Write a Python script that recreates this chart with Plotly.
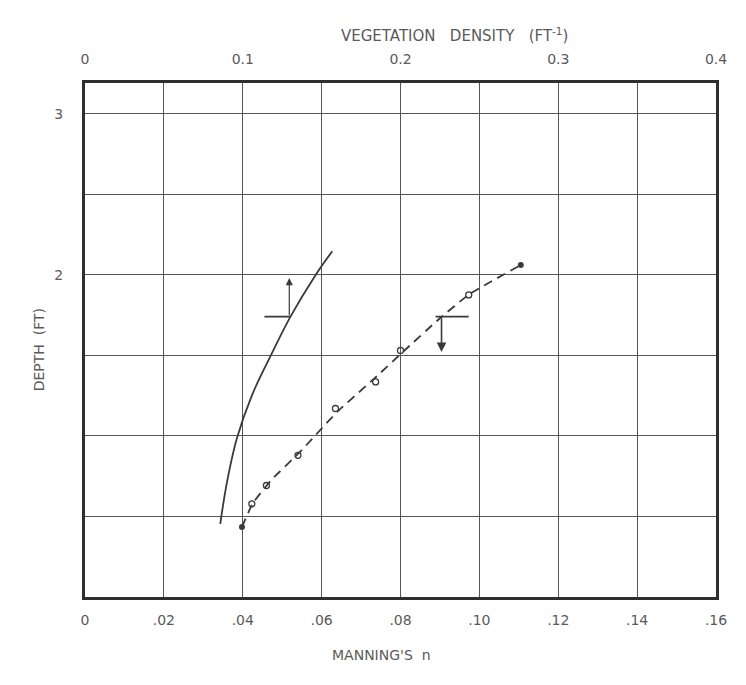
"""Depth vs Manning's n / vegetation density chart."""

import plotly.graph_objects as go

# solid curve: vegetation density relation (plotted on Manning's n scale)
solid_n = [0.0343, 0.0352, 0.0363, 0.0385, 0.0423, 0.0470, 0.0521, 0.0584, 0.0627]
solid_depth = [0.454, 0.60, 0.75, 0.983, 1.25, 1.493, 1.74, 1.996, 2.146]

# dashed curve: Manning's n
dashed_n = [0.0398, 0.0425, 0.0470, 0.0545, 0.0640, 0.0740, 0.0810, 0.0900, 0.0975, 0.1105]
dashed_depth = [0.434, 0.58, 0.72, 0.90, 1.15, 1.37, 1.53, 1.73, 1.88, 2.06]

circle_n = [0.0423, 0.0460, 0.0540, 0.0635, 0.0737, 0.0800, 0.0973]
circle_depth = [0.578, 0.692, 0.879, 1.17, 1.335, 1.53, 1.875]

end_n = [0.0398, 0.1105]
end_depth = [0.434, 2.06]

# limit markers
solid_bar_n = [0.0455, 0.0521]
solid_bar_depth = [1.74, 1.74]
dashed_bar_n = [0.0889, 0.0973]
dashed_bar_depth = [1.74, 1.74]

bottom_ticks = [0, 0.02, 0.04, 0.06, 0.08, 0.10, 0.12, 0.14, 0.16]
bottom_labels = ["0", ".02", ".04", ".06", ".08", ".10", ".12", ".14", ".16"]
top_ticks = [0, 0.1, 0.2, 0.3, 0.4]
top_labels = ["0", "0.1", "0.2", "0.3", "0.4"]
depth_ticks = [2, 3]

INK = "#3a3a3a"
TEXT = "#5a5a5a"
FONT = "DejaVu Sans"

fig = go.Figure()

fig.add_trace(go.Scatter(x=solid_n, y=solid_depth, mode="lines",
                         line=dict(color=INK, width=1.8, shape="spline", smoothing=1.0)))
fig.add_trace(go.Scatter(x=dashed_n, y=dashed_depth, mode="lines",
                         line=dict(color=INK, width=1.8, dash="9px,6px", shape="spline", smoothing=0.4)))
fig.add_trace(go.Scatter(x=circle_n, y=circle_depth, mode="markers",
                         marker=dict(symbol="circle-open", size=6, color=INK, line=dict(width=1.3))))
fig.add_trace(go.Scatter(x=end_n, y=end_depth, mode="markers",
                         marker=dict(symbol="circle", size=6, color=INK)))
fig.add_trace(go.Scatter(x=solid_bar_n, y=solid_bar_depth, mode="lines",
                         line=dict(color=INK, width=1.8)))
fig.add_trace(go.Scatter(x=dashed_bar_n, y=dashed_bar_depth, mode="lines",
                         line=dict(color=INK, width=1.8)))
# invisible trace to anchor the top axis
fig.add_trace(go.Scatter(x=[0, 0.4], y=[0, 0], xaxis="x2", mode="markers",
                         marker=dict(opacity=0), hoverinfo="skip"))

fig.add_annotation(x=0.0518, y=1.98, ax=0.0518, ay=1.74, xref="x", yref="y",
                   axref="x", ayref="y", text="", showarrow=True,
                   arrowhead=2, arrowsize=1.2, arrowwidth=1.2, arrowcolor=INK)
fig.add_annotation(x=0.0904, y=1.52, ax=0.0904, ay=1.74, xref="x", yref="y",
                   axref="x", ayref="y", text="", showarrow=True,
                   arrowhead=2, arrowsize=1.2, arrowwidth=1.6, arrowcolor=INK)

fig.add_annotation(x=0.585, y=1.0, xref="paper", yref="paper", yshift=60,
                   text="VEGETATION\u00a0\u00a0\u00a0DENSITY\u00a0\u00a0\u00a0(FT<sup>-1</sup>)",
                   showarrow=False, font=dict(family=FONT, size=15, color=TEXT))
fig.add_annotation(x=0.47, y=0, xref="paper", yref="paper", yshift=-68,
                   text="MANNING'S\u00a0\u00a0n", showarrow=False,
                   font=dict(family=FONT, size=14, color=TEXT))
fig.add_annotation(x=0, y=0.48, xref="paper", yref="paper", xshift=-56,
                   text="DEPTH\u00a0\u00a0(FT)", textangle=-90, showarrow=False,
                   font=dict(family=FONT, size=14, color=TEXT))

axis_common = dict(showline=True, linecolor="#2e2e2e", linewidth=3, ticks="",
                   tickfont=dict(family=FONT, size=14, color=TEXT), zeroline=False)

fig.update_layout(
    width=738,
    height=677,
    margin=dict(l=77, r=30, t=75, b=88, autoexpand=False),
    paper_bgcolor="white",
    plot_bgcolor="white",
    showlegend=False,
    xaxis=dict(range=[0, 0.16], tickvals=bottom_ticks, ticktext=bottom_labels,
               showgrid=True, gridcolor="#555555", gridwidth=1.4, mirror=True,
               ticklabelstandoff=8, **axis_common),
    xaxis2=dict(range=[0, 0.4], overlaying="x", side="top", tickvals=top_ticks,
                ticktext=top_labels, showgrid=False, ticklabelstandoff=10, **axis_common),
    yaxis=dict(range=[0, 3.19], tickvals=depth_ticks, showgrid=True, gridcolor="#555555",
               gridwidth=1.4, mirror=True, ticklabelstandoff=16,
               minor=dict(dtick=0.5, showgrid=True, gridcolor="#555555", gridwidth=1.4),
               **axis_common),
)

fig.write_html("out.html")
